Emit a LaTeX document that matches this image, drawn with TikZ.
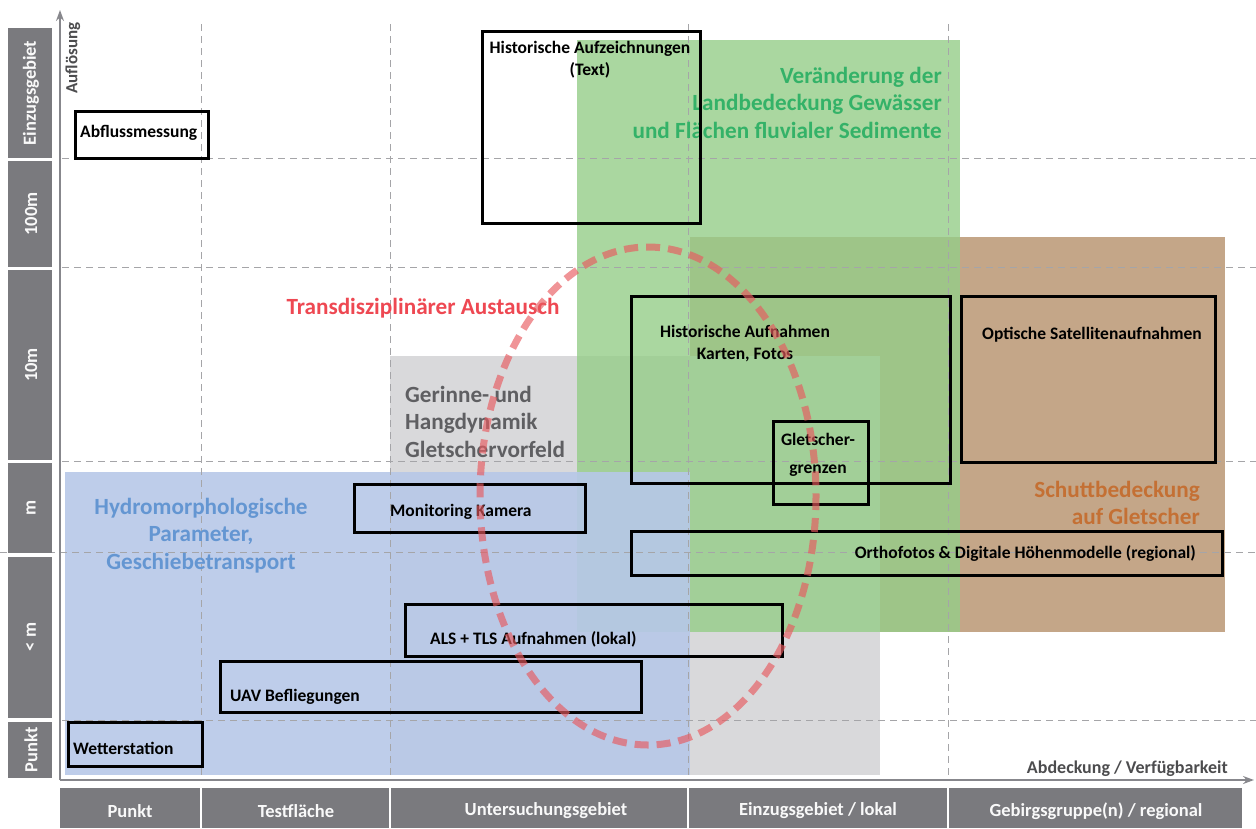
\documentclass[tikz,border=0pt]{standalone}
\usepackage{fontspec}
\setmainfont{Carlito}
\usetikzlibrary{arrows.meta}
\definecolor{barg}{RGB}{122,122,126}
\definecolor{gridg}{RGB}{165,165,168}
\definecolor{axisg}{RGB}{135,135,140}
\definecolor{brownf}{RGB}{196,166,136}
\definecolor{grayf}{RGB}{217,217,219}
\definecolor{greenf}{RGB}{149,205,136}
\definecolor{bluef}{RGB}{183,200,232}
\definecolor{greent}{RGB}{52,178,104}
\definecolor{brownt}{RGB}{196,112,52}
\definecolor{grayt}{RGB}{95,95,98}
\definecolor{bluet}{RGB}{100,150,210}
\definecolor{redt}{RGB}{238,72,82}
\definecolor{rede}{RGB}{232,90,95}
\tikzset{
  gridline/.style={gridg, line width=0.9pt, dash pattern=on 7pt off 5pt},
  axisline/.style={axisg, line width=1.6pt, -{Stealth[length=11pt,width=8pt]}},
  box/.style={draw=black, line width=2.8pt, inner sep=0pt},
  lbl/.style={font=\fontsize{17.5}{22}\selectfont\bfseries, inner sep=0pt},
  biglbl/.style={font=\fontsize{23.2}{27.5}\selectfont\bfseries, inner sep=0pt},
  barlbl/.style={font=\fontsize{18.5}{22}\selectfont\bfseries, text=white!95!gray, inner sep=0pt},
  axlbl/.style={font=\fontsize{18}{22}\selectfont\bfseries, text=grayt!80!black, inner sep=0pt}
}
\begin{document}
\begin{tikzpicture}[x=1pt,y=-1pt]
\useasboundingbox (0,0) rectangle (1256,828);
% coloured areas
\fill[brownf] (690,237) rectangle (1225,632);
\fill[grayf] (390,356) rectangle (880,775);
\fill[greenf, opacity=0.8] (577,40) rectangle (960,632);
\fill[bluef, opacity=0.9] (65,472) rectangle (690,775);
% grid
\foreach \yy in {158,267,461,720}{\draw[gridline] (62,\yy) -- (1256,\yy);}
\draw[gridline] (0,552) -- (1256,552);
\foreach \xx in {201,390,688,948}{\draw[gridline] (\xx,24) -- (\xx,780);}
% axes
\coordinate (o) at (60,780);
\coordinate (ytip) at (60,10);
\coordinate (xtip) at (1254,780);
\draw[axisline] (o) -- (ytip);
\draw[axisline] (o) -- (xtip);
\node[axlbl, rotate=90, font=\fontsize{17}{20}\selectfont\bfseries] (auf) at (73,58) {Auflösung};
\node[axlbl, anchor=base east] (abd) at (1228,773) {Abdeckung / Verfügbarkeit};
% left bar
\fill[barg] (8,28) rectangle (52,158);
\fill[barg] (8,161) rectangle (52,267);
\fill[barg] (8,270) rectangle (52,460);
\fill[barg] (8,463) rectangle (52,553);
\fill[barg] (8,557) rectangle (52,718);
\fill[barg] (8,722) rectangle (52,778);
\node[barlbl, rotate=90] (l1) at (31,93) {Einzugsgebiet};
\node[barlbl, rotate=90] (l2) at (31,214) {100m};
\node[barlbl, rotate=90] (l3) at (31,365) {10m};
\node[barlbl, rotate=90] (l4) at (31,508) {m};
\node[barlbl, rotate=90] (l5) at (31,637) {< m};
\node[barlbl, rotate=90] (l6) at (31,750) {Punkt};
% bottom bar
\fill[barg] (60,788) rectangle (200,828);
\fill[barg] (202,788) rectangle (389,828);
\fill[barg] (391,788) rectangle (687,828);
\fill[barg] (689,788) rectangle (947,828);
\fill[barg] (949,788) rectangle (1242,828);
\node[barlbl] (b1) at (130,811) {Punkt};
\node[barlbl] (b2) at (296,811) {Testfläche};
\node[barlbl] (b3) at (546,811) {Untersuchungsgebiet};
\node[barlbl] (b4) at (818,811) {Einzugsgebiet / lokal};
\node[barlbl] (b5) at (1096,811) {Gebirgsgruppe(n) / regional};
% area labels
\node[biglbl, text=greent, align=right, anchor=north east] (tgreen) at (942,67) {Veränderung der\\Landbedeckung Gewässer\\und Flächen fluvialer Sedimente};
\node[biglbl, text=redt, anchor=base] (tred) at (423,314) {Transdisziplinärer Austausch};
\node[biglbl, text=grayt, align=left, anchor=north west] (tgray) at (405,386) {Gerinne- und\\Hangdynamik\\Gletschervorfeld};
\node[biglbl, text=bluet, align=center, anchor=north] (tblue) at (201,498) {Hydromorphologische\\Parameter,\\Geschiebetransport};
\node[biglbl, text=brownt, align=right, anchor=north east] (tbrown) at (1200,481) {Schuttbedeckung\\auf Gletscher};
% boxes
\node[box, minimum width=133, minimum height=47, anchor=north west] (abfl) at (74,110) {};
\node[lbl, anchor=base west] (tabfl) at (80,137) {Abflussmessung};
\node[box, minimum width=218, minimum height=192, anchor=north west] (hist) at (481,30) {};
\node[lbl, align=center, anchor=north] (thist) at (590,41) {Historische Aufzeichnungen\\(Text)};
\node[box, minimum width=319, minimum height=187, anchor=north west] (hauf) at (630,295) {};
\node[lbl, align=center, anchor=north] (thauf) at (745,325) {Historische Aufnahmen\\Karten, Fotos};
\node[box, minimum width=254, minimum height=166, anchor=north west] (opt) at (960,295) {};
\node[lbl, anchor=base] (topt) at (1092,339) {Optische Satellitenaufnahmen};
\node[box, minimum width=95, minimum height=83, anchor=north west] (gle) at (772,420) {};
\node[lbl, align=center, anchor=north, font=\fontsize{17.5}{28}\selectfont\bfseries] (tgle) at (818,433) {Gletscher-\\grenzen};
\node[box, minimum width=231, minimum height=48, anchor=north west] (mon) at (353,483) {};
\node[lbl, anchor=base west] (tmon) at (390,516) {Monitoring Kamera};
\node[box, minimum width=591, minimum height=44, anchor=north west] (orth) at (630,530) {};
\node[lbl, anchor=base east] (torth) at (1196,558) {Orthofotos \& Digitale Höhenmodelle (regional)};
\node[box, minimum width=377, minimum height=52, anchor=north west] (als) at (404,603) {};
\node[lbl, anchor=base west] (tals) at (430,644) {ALS + TLS Aufnahmen (lokal)};
\node[box, minimum width=421, minimum height=51, anchor=north west] (uav) at (219,660) {};
\node[lbl, anchor=base west] (tuav) at (230,701) {UAV Befliegungen};
\node[box, minimum width=134, minimum height=44, anchor=north west] (wet) at (67,721) {};
\node[lbl, anchor=base west] (twet) at (73,754) {Wetterstation};
% ellipse
\draw[rede, opacity=0.65, line width=7pt, dash pattern=on 14pt off 8pt] (648,496) ellipse [x radius=168, y radius=249];
\end{tikzpicture}
\end{document}
